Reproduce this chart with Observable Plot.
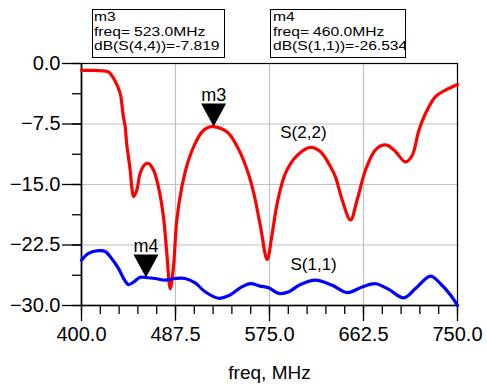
<!DOCTYPE html>
<html>
<head>
<meta charset="utf-8">
<script src="https://cdn.jsdelivr.net/npm/d3@7"></script>
<script src="https://cdn.jsdelivr.net/npm/@observablehq/plot@0.6"></script>
<style>
  html, body { margin: 0; padding: 0; background: #fff; }
  #wrap { position: relative; width: 487px; height: 388px; font-family: "Liberation Sans", Arial, sans-serif; }
  .mbox { position: absolute; top: 9px; height: 46.5px; border: 1.5px solid #000; padding: 0 0 0 1.5px; box-sizing: content-box; color: #000; white-space: nowrap; overflow: hidden; }
  .mbox .inner { font-size: 13.6px; line-height: 14.5px; transform: scale(1.15, 1); transform-origin: 0 0; }
  .gap { margin-left: 3.5px; }
  svg { display: block; }
</style>
</head>
<body>
<div id="wrap"></div>
<script>
// ---- data ----
const s22Freq = [400,410,418,425,431,436,437.5,439,440.7,442,443.7,445.3,446.8,448.4,451.5,454.6,459.3,462.3,467,471.6,476.3,479.4,482.6,485.6,488.7,493.4,499.6,505.8,512,518.2,523,535.6,544.9,554.2,560.4,566.6,572.8,577.5,582.2,589.9,600.8,613.2,622.5,631.8,636.4,642.6,650.4,656.6,664.4,673.7,683,690.7,701.6,707.8,714,720.2,729.5,738.8,750];
const s22DB   = [-0.85,-0.85,-0.9,-1.05,-2.1,-3.7,-4.96,-6.6,-7.85,-9.9,-11.6,-13.2,-15.3,-16.5,-15.7,-13.6,-12.5,-12.4,-13.2,-15.3,-19,-23.5,-27.9,-25.2,-19.4,-15.3,-12,-9.9,-8.5,-7.9,-7.82,-8.5,-10.3,-13.2,-16.1,-20.2,-24.3,-21.1,-17.3,-13.6,-11.4,-10.4,-10.95,-12.8,-14.05,-16.9,-19.4,-16.9,-13.2,-10.7,-10.1,-10.7,-12.2,-11.4,-8.3,-6.2,-4.1,-3.3,-2.6];

const s11Freq = [400,406.5,415.8,422,428.2,434.4,439,443.7,448.4,454.6,460,468.6,477.9,487.2,496.5,505.8,515.1,527.5,536.8,549.2,557,566.3,574.1,583.7,593,602.3,617.8,633.4,647.3,661.3,673.7,686,700,710.9,724.9,734.2,743.5,750];
const s11DB   = [-24.4,-23.55,-23.2,-23.3,-24.2,-25.4,-26.6,-27.4,-27.1,-26.5,-26.53,-26.65,-26.85,-26.65,-26.65,-27.2,-28.3,-29.1,-28.8,-27.7,-27.3,-27.6,-27.8,-28.5,-28.3,-27.5,-26.85,-27.5,-28.4,-27.7,-27.3,-28,-29.05,-27.9,-26.35,-27.3,-28.7,-30];

const xMajor = [400, 487.5, 575, 662.5, 750];
const xMinor = d3.range(0, 21).map(i => 400 + i * 17.5);
const yMajor = [0, -7.5, -15, -22.5, -30];
const yMinor = d3.range(0, 9).map(i => -i * 3.75);

const markerNames = ["m3", "m4"];
const markerFreq  = [523.0, 460.0];
const markerDB    = [-7.819, -26.534];
const markerTrace = ["dB(S(4,4))", "dB(S(1,1))"];
const markerValueText = ["-7.819", "-26.534"];
const markerFreqText  = ["523.0MHz", "460.0MHz"];

const traceNames  = ["S(2,2)", "S(1,1)"];
const labelFreq   = [585, 594.5];
const labelDB     = [-8.5, -24.9];

// ---- build ----
const s22 = s22Freq.map((f, i) => ({f, v: s22DB[i]}));
const s11 = s11Freq.map((f, i) => ({f, v: s11DB[i]}));
const markers = markerNames.map((n, i) => ({n, f: markerFreq[i], v: markerDB[i]}));
const labels = traceNames.map((n, i) => ({n, f: labelFreq[i], v: labelDB[i]}));

const downTriangle = {
  draw(ctx, size) {
    ctx.moveTo(-12.5, -23);
    ctx.lineTo(12.5, -23);
    ctx.lineTo(0, 0);
    ctx.closePath();
  }
};

const font = "Liberation Sans, Arial, sans-serif";

const chart = Plot.plot({
  width: 487,
  height: 388,
  marginLeft: 81,
  marginRight: 30,
  marginTop: 63,
  marginBottom: 83,
  style: {fontFamily: font, background: "white", color: "black"},
  x: {domain: [400, 750]},
  y: {domain: [-30, 0]},
  marks: [
    Plot.gridX(xMajor, {stroke: "#c0c0c0", strokeOpacity: 1, strokeWidth: 1.2}),
    Plot.gridY(yMajor, {stroke: "#c0c0c0", strokeOpacity: 1, strokeWidth: 1.2}),
    Plot.axisX(xMinor, {tickSize: 9, tickFormat: () => "", strokeWidth: 1.3, label: null}),
    Plot.axisX(xMajor, {tickSize: 16, tickPadding: 5, tickFormat: d3.format(".1f"), fontSize: 20, strokeWidth: 1.3, label: null}),
    Plot.axisY(yMinor, {tickSize: 9, tickFormat: () => "", strokeWidth: 1.3, label: null}),
    Plot.axisY(yMajor, {tickSize: 19, tickPadding: 2, tickFormat: d3.format(".1f"), fontSize: 20, strokeWidth: 1.3, label: null}),
    Plot.frame({stroke: "black", strokeWidth: 1.2}),
    Plot.ruleY([-30], {stroke: "black", strokeWidth: 1.6}),
    Plot.ruleX([400], {stroke: "black", strokeWidth: 1.6}),
    Plot.line(s22, {x: "f", y: "v", stroke: "#ff0000", strokeWidth: 3.2, curve: "catmull-rom"}),
    Plot.line(s11, {x: "f", y: "v", stroke: "#0000ff", strokeWidth: 3.2, curve: "catmull-rom"}),
    Plot.dot(markers, {x: "f", y: "v", symbol: downTriangle, fill: "black", stroke: "none", r: 5}),
    Plot.text(markers, {x: "f", y: "v", text: "n", dy: -31, fontSize: 18, fill: "black"}),
    Plot.text(labels, {x: "f", y: "v", text: "n", textAnchor: "start", fontSize: 17, fill: "black"}),
    Plot.text(["freq, MHz"], {text: d => d, frameAnchor: "bottom", dy: 73, fontSize: 19, fill: "black"})
  ]
});

const wrap = document.getElementById("wrap");
wrap.appendChild(chart);

const boxLeft = [91.5, 270];
const boxWidth = [129.5, 132.5];
markerNames.forEach((name, i) => {
  const div = document.createElement("div");
  div.className = "mbox";
  div.style.left = boxLeft[i] + "px";
  div.style.width = boxWidth[i] + "px";
  div.innerHTML = `<div class="inner"><div>${name}</div><div>freq=<span class="gap">${markerFreqText[i]}</span></div><div>${markerTrace[i]}=${markerValueText[i]}</div></div>`;
  wrap.appendChild(div);
});
</script>
</body>
</html>
